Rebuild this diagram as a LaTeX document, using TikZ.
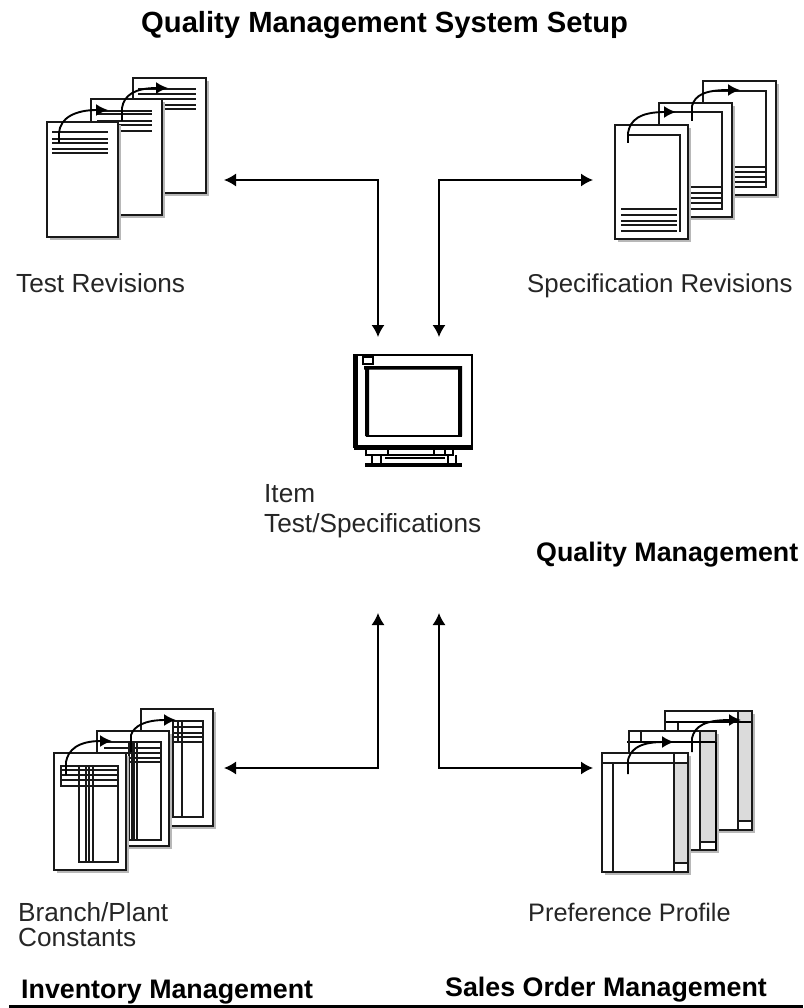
\documentclass[tikz,border=0pt]{standalone}
\usepackage{fontspec}
\setmainfont{Liberation Sans}
\usetikzlibrary{arrows.meta}
\tikzset{
  x=1pt,y=-1pt,
  sheet/.style={draw=black!90,fill=white,line width=1.8pt},
  sheetshadow/.style={fill=black!28,draw=none},
  rowline/.style={draw=black!90,line width=1.5pt},
  thickline/.style={draw=black,line width=2.6pt},
  curvearrow/.style={draw=black,line width=1.9pt,-{Latex[length=12pt,width=12pt]}},
  conn/.style={draw=black,line width=1.5pt,{Latex[length=12pt,width=13pt]}-{Latex[length=12pt,width=13pt]}},
  lab/.style={anchor=base west,inner sep=0pt,font=\fontsize{26.2}{26}\selectfont,text=black!85},
  labnarrow/.style={anchor=base west,inner sep=0pt,font=\fontsize{25.3}{26}\selectfont,text=black!85},
  labmid/.style={anchor=base west,inner sep=0pt,font=\fontsize{25.8}{26}\selectfont,text=black!85},
  headlab/.style={anchor=base west,inner sep=0pt,font=\fontsize{26.8}{26}\selectfont\bfseries},
  titlelab/.style={anchor=base west,inner sep=0pt,font=\fontsize{29.2}{26}\selectfont\bfseries},
  slot/.style={draw=none,fill=none,inner sep=0pt,outer sep=0pt}
}
\newcommand{\sheetat}[4]{%
  \fill[sheetshadow] (#1+3,#2+3) rectangle (#3+3,#4+3);
  \path[sheet] (#1,#2) rectangle (#3,#4);}
\begin{document}
\begin{tikzpicture}
\useasboundingbox (0,0) rectangle (803,1008);
\fill[white] (0,0) rectangle (803,1008);

% Test Revisions
\sheetat{133}{78}{206}{193}
\foreach \y in {89,94,99,105,109} \draw[rowline] (138,\y) -- (196,\y);
\sheetat{91}{99}{162}{215}
\foreach \y in {111,114,121,125,131} \draw[rowline] (97,\y) -- (152,\y);
\sheetat{47}{122}{118}{237}
\foreach \y in {132,139,143,149,153} \draw[rowline] (52,\y) -- (108,\y);
\draw[curvearrow] (59,143) -- (59,133) .. controls (60,118) and (75,110) .. (108,110);
\draw[curvearrow] (122,121) -- (122,108) .. controls (124,95) and (135,88) .. (168,88);

% Specification Revisions
\sheetat{703}{81}{776}{195}
\draw[rowline] (712,91) -- (766,91) -- (766,187) -- (734,187);
\foreach \y in {167,172,177,182} \draw[rowline] (734,\y) -- (765,\y);
\sheetat{659}{103}{732}{217}
\draw[rowline] (668,112) -- (722,112) -- (722,209) -- (691,209);
\foreach \y in {187,193,198,203} \draw[rowline] (691,\y) -- (722,\y);
\sheetat{615}{125}{688}{239}
\draw[rowline] (628,135) -- (680,135) -- (680,232);
\foreach \y in {209,215,221,225,231} \draw[rowline] (621,\y) -- (677,\y);
\draw[curvearrow] (628,143) -- (628,133) .. controls (630,120) and (640,112) .. (676,112);
\draw[curvearrow] (692,121) -- (692,106) .. controls (695,95) and (705,90) .. (740,90);

% Monitor
\draw[line width=1.6pt] (354,355) rectangle (472,447);
\fill[black] (354,355) rectangle (358,447);
\fill[black] (354,445) rectangle (473,449.5);
\draw[line width=1.3pt] (367,367) rectangle (461,436);
\fill[black] (364,366) rectangle (460,369.5) (365,366) rectangle (369,436) (458,366) rectangle (462,436);
\draw[line width=1.5pt,fill=white] (363,357) rectangle (373,364);
\draw[line width=1.5pt] (366,449) -- (366,455) -- (453,455);
\draw[line width=1.5pt] (388,449) -- (388,455) (434,449) -- (434,455) (445,449) -- (445,455) (453,449) -- (453,456);
\draw[line width=1.5pt] (372,455) -- (372,464) (381,455) -- (381,464) (448,455) -- (448,464) (456,455) -- (456,464);
\draw[line width=1.5pt] (385,458) -- (445,458);
\fill[black] (365,463) rectangle (462,466.5);

% Branch/Plant Constants
\sheetat{141}{709}{213}{826}
\draw[rowline] (173,721) rectangle (203,817);
\foreach \y in {727,733,737,742} \draw[rowline] (173,\y) -- (203,\y);
\draw[rowline] (182,721) -- (182,817) (178,721) -- (178,742);
\sheetat{97}{731}{169}{846}
\draw[rowline] (129,742) rectangle (161,840);
\draw[rowline] (104,742) -- (129,742);
\foreach \y in {748,753,758,762} \draw[rowline] (104,\y) -- (161,\y);
\foreach \x in {132,134,137} \draw[rowline] (\x,742) -- (\x,840);
\sheetat{54}{753}{126}{870}
\draw[rowline] (61,766) rectangle (118,786);
\draw[rowline] (61,770) -- (118,770) (61,775) -- (118,775) (61,780) -- (118,780);
\draw[rowline] (79,766) -- (79,862) -- (118,862) -- (118,766);
\foreach \x in {86,89,93} \draw[rowline] (\x,766) -- (\x,862);
\draw[curvearrow] (66,775) -- (66,762) .. controls (68,750) and (78,741) .. (112,741);
\draw[curvearrow] (131,752) -- (131,735) .. controls (134,726) and (145,720) .. (176,720);

% Preference Profile
\sheetat{665}{711}{752}{830}
\fill[black!14] (738,711) rectangle (752,821);
\draw[rowline] (738,711) -- (738,830) (738,821) -- (752,821) (678,722) -- (678,731);
\draw[thickline] (665,722) -- (752,722);
\path[draw=black!90,line width=1.8pt] (665,711) rectangle (752,830);
\sheetat{629}{731}{716}{850}
\fill[black!14] (700,731) rectangle (715,842);
\draw[rowline] (700,731) -- (700,850) (700,842) -- (716,842) (641,731) -- (641,742);
\draw[thickline] (627,742) -- (716,742);
\path[draw=black!90,line width=1.8pt] (629,731) rectangle (716,850);
\draw[thickline] (716,742) -- (716,850);
\sheetat{602}{753}{688}{872}
\fill[black!14] (674,763) rectangle (688,863);
\draw[rowline] (602,763) -- (688,763) (613,763) -- (613,872) (674,753) -- (674,872) (674,863) -- (688,863);
\path[draw=black!90,line width=1.8pt] (602,753) rectangle (688,872);
\draw[curvearrow] (628,774) -- (628,760) .. controls (630,752) and (636,742) .. (674,742);
\draw[curvearrow] (692,752) -- (692,738) .. controls (695,726) and (705,720) .. (741,720);

% Icon slots and connectors
\node[slot,minimum width=178pt,minimum height=204pt] (tests) at (135,180) {};
\node[slot,minimum width=200pt,minimum height=204pt] (specs) at (693,180) {};
\node[slot,minimum width=190pt,minimum height=200pt] (branch) at (129,768) {};
\node[slot,minimum width=180pt,minimum height=200pt] (prefs) at (683,768) {};
\node[slot,minimum width=61pt,minimum height=276pt] (hub) at (408.5,475) {};
\draw[conn] (hub.north west) |- (tests.east);
\draw[conn] (hub.north east) |- (specs.west);
\draw[conn] (hub.south west) |- (branch.east);
\draw[conn] (hub.south east) |- (prefs.west);

% Labels
\node[titlelab] (title) at (141,33) {Quality Management System Setup};
\node[lab] (ltest) at (16,292) {Test Revisions};
\node[labmid] (lspec) at (527,292) {Specification Revisions};
\node[lab] (litem) at (264,502) {Item};
\node[lab] (litem2) at (264,532) {Test/Specifications};
\node[headlab] (lqm) at (536,561) {Quality Management};
\node[lab] (lbp) at (18,921) {Branch/Plant};
\node[lab] (lbp2) at (18,946) {Constants};
\node[labnarrow] (lpref) at (528,921) {Preference Profile};
\node[headlab] (linv) at (21,998) {Inventory Management};
\node[headlab] (lsales) at (445,996) {Sales Order Management};
\fill[black] (9,1004.7) rectangle (803,1008);
\end{tikzpicture}
\end{document}
